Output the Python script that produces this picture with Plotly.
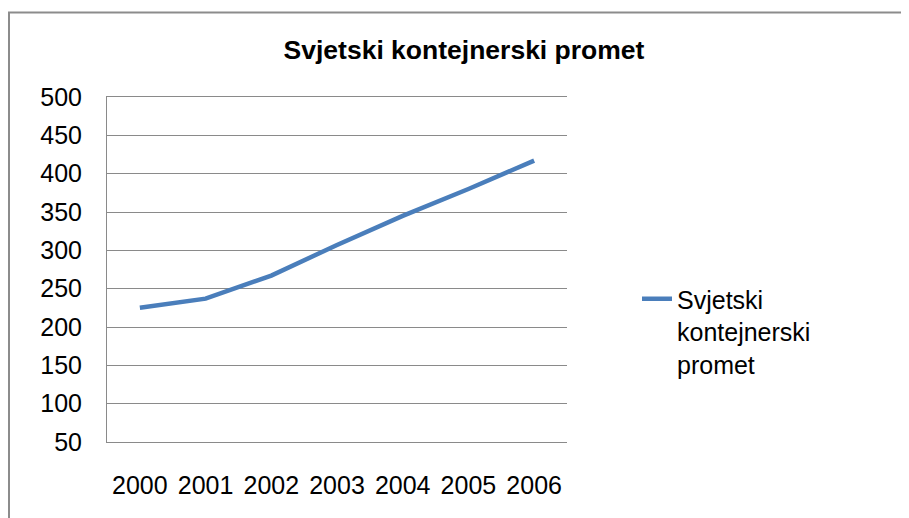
import plotly.graph_objects as go

years = ["2000", "2001", "2002", "2003", "2004", "2005", "2006"]
values = [225, 237, 267, 307, 345, 380, 417]
series_name = "Svjetski kontejnerski promet"
legend_label = "Svjetski<br>kontejnerski<br>promet"
y_ticks = [50, 100, 150, 200, 250, 300, 350, 400, 450, 500]

# page body has an 8px margin; figure is sized so it fits the 909x518 window
W, H = 901, 510
L, R, T, B = 99, 901 - 559, 89, 510 - 434
PW, PH = W - L - R, H - T - B


def px_x(p):
    return (p - L) / PW


def px_y(p):
    return (H - B - p) / PH


FONT = "Liberation Sans, Arial, sans-serif"
GRID = "#8a8a8a"

fig = go.Figure()
fig.add_trace(go.Scatter(
    x=years, y=values, mode="lines", name=legend_label,
    line=dict(color="#4A7EBB", width=4.5),
    showlegend=True,
))

fig.update_layout(
    width=W, height=H,
    margin=dict(l=L, r=R, t=T, b=B),
    paper_bgcolor="white", plot_bgcolor="white",
    title=dict(text="<b>" + series_name + "</b>", x=456 / W, xref="container",
               y=1 - 42 / H, yref="container", xanchor="center", yanchor="middle",
               font=dict(family=FONT, size=26.5, color="black")),
    font=dict(family=FONT, color="black"),
    showlegend=True,
    legend=dict(x=px_x(629), y=px_y(268), xref="paper", yref="paper",
                xanchor="left", yanchor="top", valign="top",
                font=dict(family=FONT, size=25, color="black"),
                bgcolor="rgba(0,0,0,0)", borderwidth=0),
    xaxis=dict(type="category", range=[-0.5, 6.5], showgrid=False,
               showline=True, mirror=True, linecolor=GRID, linewidth=1,
               zeroline=False, ticks="", ticklabelstandoff=21,
               tickfont=dict(family=FONT, size=25, color="black")),
    yaxis=dict(range=[50, 500], tickvals=y_ticks, showgrid=True, gridcolor=GRID,
               gridwidth=1, showline=True, linecolor=GRID, linewidth=1,
               zeroline=False, ticks="", ticklabelstandoff=19,
               tickfont=dict(family=FONT, size=25, color="black")),
    shapes=[
        dict(type="line", xref="paper", yref="paper", x0=px_x(0), x1=px_x(W + 5),
             y0=px_y(4.5), y1=px_y(4.5), line=dict(color="#8c8c8c", width=2)),
        dict(type="line", xref="paper", yref="paper", x0=px_x(1), x1=px_x(1),
             y0=px_y(4.5), y1=px_y(H + 5), line=dict(color="#8c8c8c", width=2)),
    ],
)

fig.write_html("out.html")
